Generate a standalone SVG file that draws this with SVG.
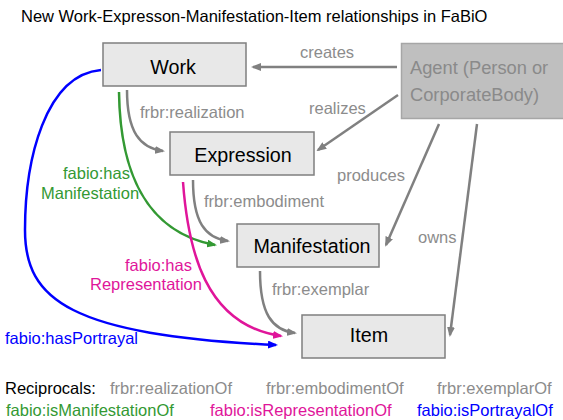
<svg xmlns="http://www.w3.org/2000/svg" width="563" height="420" viewBox="0 0 563 420">
<style>
text { font-family: "Liberation Sans", Arial, sans-serif; }
.box { fill: #e8e8e8; stroke: #7f7f7f; stroke-width: 1.5; }
.bt { font-size: 19.7px; fill: #000; text-anchor: middle; }
.lbl { font-size: 16.5px; }
.g { fill: #8c8c8c; }
.gr { fill: #339933; }
.mg { fill: #e0159a; }
.bl { fill: #0000ff; }
.c { fill: none; stroke-width: 2.5; }
.cg { stroke: #808080; marker-end: url(#ag); }
.cgr { stroke: #339933; marker-end: url(#agr); }
.cmg { stroke: #e0159a; marker-end: url(#amg); }
.cbl { stroke: #0000ff; marker-end: url(#abl); }
</style>
<defs>
<marker id="ag" markerWidth="10" markerHeight="8" refX="8" refY="4" orient="auto" markerUnits="userSpaceOnUse"><path d="M0,0 L10,4 L0,8 z" fill="#808080"/></marker>
<marker id="agr" markerWidth="10" markerHeight="8" refX="8" refY="4" orient="auto" markerUnits="userSpaceOnUse"><path d="M0,0 L10,4 L0,8 z" fill="#339933"/></marker>
<marker id="amg" markerWidth="10" markerHeight="8" refX="8" refY="4" orient="auto" markerUnits="userSpaceOnUse"><path d="M0,0 L10,4 L0,8 z" fill="#e0159a"/></marker>
<marker id="abl" markerWidth="10" markerHeight="8" refX="8" refY="4" orient="auto" markerUnits="userSpaceOnUse"><path d="M0,0 L10,4 L0,8 z" fill="#0000ff"/></marker>
</defs>
<rect width="563" height="420" fill="#ffffff"/>
<text x="21" y="22" font-size="16.5" fill="#000">New Work-Expresson-Manifestation-Item relationships in FaBiO</text>

<g id="connectors">
<path class="c cg" d="M397,67 L253,67"/>
<path class="c cg" d="M398,95 L318,150"/>
<path class="c cg" d="M439,124 L386,245"/>
<path class="c cg" d="M477,124 L450,335"/>
<path class="c cg" d="M127,90 C127,132 140,148 163,151"/>
<path class="c cg" d="M193,180 C193,222 205,238 228,241"/>
<path class="c cg" d="M260,271 C260,314 272,330 295,333"/>
<path class="c cgr" d="M119,92 C120,170 145,232 215,245"/>
<path class="c cmg" d="M183,182 C188,250 205,325 281,336"/>
<path class="c cbl" d="M101,70 C45,75 25,160 25,230 C25,300 70,335 276,345"/>
</g>

<g id="edge-labels">
<text class="lbl g" x="300" y="58">creates</text>
<text class="lbl g" x="309" y="114">realizes</text>
<text class="lbl g" x="140" y="118">frbr:realization</text>
<text class="lbl g" x="337" y="181">produces</text>
<text class="lbl g" x="204" y="207">frbr:embodiment</text>
<text class="lbl g" x="418" y="243">owns</text>
<text class="lbl g" x="272" y="295">frbr:exemplar</text>
<text class="lbl gr" x="63" y="179">fabio:has</text>
<text class="lbl gr" x="41" y="199">Manifestation</text>
<text class="lbl mg" x="125" y="271">fabio:has</text>
<text class="lbl mg" x="90" y="290">Representation</text>
<text class="lbl bl" x="5" y="344">fabio:hasPortrayal</text>
</g>

<g id="work">
<rect class="box" x="103" y="43" width="143" height="43"/>
<text class="bt" x="173" y="74">Work</text>
</g>
<g id="expression">
<rect class="box" x="170" y="132" width="144" height="43"/>
<text class="bt" x="243" y="162">Expression</text>
</g>
<g id="manifestation">
<rect class="box" x="237" y="224" width="142" height="43"/>
<text class="bt" x="312" y="253">Manifestation</text>
</g>
<g id="item">
<rect class="box" x="302" y="315" width="143" height="43"/>
<text class="bt" x="369" y="342">Item</text>
</g>
<g id="agent">
<rect x="401.5" y="43.5" width="170" height="75" fill="#bfbfbf" stroke="#a6a6a6" stroke-width="1.5"/>
<text x="410" y="74" font-size="18.3" fill="#8a8a8a">Agent (Person or</text>
<text x="410" y="100.5" font-size="18.3" fill="#8a8a8a">CorporateBody)</text>
</g>

<g id="reciprocals">
<text class="lbl" x="5" y="394" fill="#000">Reciprocals:</text>
<text class="lbl g" x="110" y="394">frbr:realizationOf</text>
<text class="lbl g" x="266" y="394">frbr:embodimentOf</text>
<text class="lbl g" x="437" y="394">frbr:exemplarOf</text>
<text class="lbl gr" x="6" y="416">fabio:isManifestationOf</text>
<text class="lbl mg" x="210" y="416">fabio:isRepresentationOf</text>
<text class="lbl bl" x="417" y="416">fabio:isPortrayalOf</text>
</g>
</svg>
